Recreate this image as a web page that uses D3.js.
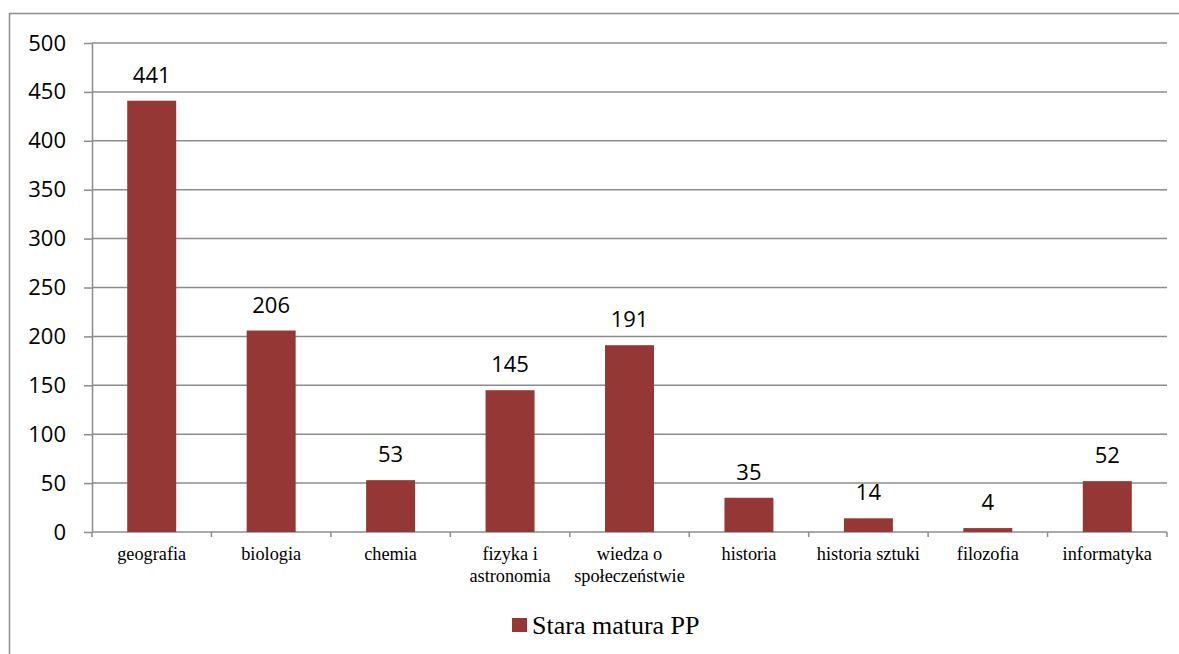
<!DOCTYPE html>
<meta charset="utf-8">
<style>
body { margin: 0; background: #fff; }
.grid line { stroke: #8c8c8c; stroke-width: 1.5px; }
.axis path, .axis line { stroke: #8c8c8c; stroke-width: 1.5px; }
.bar { fill: #953735; }
</style>
<svg width="1179" height="654"></svg>
<script src="https://cdn.jsdelivr.net/npm/d3@7"></script>
<script>
// data
var categories = ["geografia", "biologia", "chemia", "fizyka i|astronomia", "wiedza o|społeczeństwie",
                  "historia", "historia sztuki", "filozofia", "informatyka"];
var values = [441, 206, 53, 145, 191, 35, 14, 4, 52];
var yTicks = [0, 50, 100, 150, 200, 250, 300, 350, 400, 450, 500];
var seriesName = "Stara matura PP";

var svg = d3.select("svg"),
    margin = {top: 43, right: 12, bottom: 122, left: 92},
    width = 1167 - margin.left,
    height = 532 - margin.top,
    g = svg.append("g").attr("transform", "translate(" + margin.left + "," + margin.top + ")");

// outer chart border
svg.append("rect")
    .attr("x", 9.5).attr("y", 13.5)
    .attr("width", 1200).attr("height", 700)
    .attr("fill", "none")
    .attr("stroke", "#8c8c8c")
    .attr("stroke-width", 1.5);

var x = d3.scaleBand().domain(categories).range([0, width]).paddingInner(0.59).paddingOuter(0.295),
    xb = d3.scaleBand().domain(categories).range([0, width]),
    y = d3.scaleLinear().domain([0, 500]).range([height, 0]);

// gridlines
g.append("g")
    .attr("class", "grid")
    .selectAll("line")
    .data(yTicks.slice(1))
    .enter().append("line")
    .attr("x1", 0).attr("x2", width)
    .attr("y1", function(d) { return y(d); })
    .attr("y2", function(d) { return y(d); });

// y axis
var yAxis = g.append("g")
    .attr("class", "axis")
    .call(d3.axisLeft(y).tickValues(yTicks).tickSize(8).tickSizeOuter(0).tickPadding(18));
yAxis.selectAll("text")
    .style("font-family", "'Open Sans', sans-serif")
    .style("font-size", "22px")
    .attr("fill", "#000");

// x axis: ticks at band boundaries
var xAxis = g.append("g")
    .attr("class", "axis")
    .attr("transform", "translate(0," + height + ")");
xAxis.append("line").attr("x1", 0).attr("x2", width);
xAxis.selectAll(".tk")
    .data(d3.range(categories.length + 1))
    .enter().append("line")
    .attr("class", "tk")
    .attr("x1", function(i) { return i * xb.step(); })
    .attr("x2", function(i) { return i * xb.step(); })
    .attr("y1", 0).attr("y2", 5);

var labels = xAxis.selectAll(".lbl")
    .data(categories)
    .enter().append("text")
    .attr("class", "lbl")
    .attr("text-anchor", "middle")
    .attr("x", function(d) { return xb(d) + xb.bandwidth() / 2; })
    .attr("y", 28)
    .style("font-family", "'Liberation Serif', serif")
    .style("font-size", "18.3px")
    .attr("fill", "#000");
labels.each(function(d) {
  var parts = d.split("|");
  var t = d3.select(this);
  parts.forEach(function(p, i) {
    t.append("tspan").attr("x", t.attr("x")).attr("dy", i === 0 ? 0 : 22).text(p);
  });
});

// bars
var data = categories.map(function(c, i) { return {cat: c, value: values[i]}; });
g.selectAll(".bar")
    .data(data)
    .enter().append("rect")
    .attr("class", "bar")
    .attr("x", function(d) { return x(d.cat); })
    .attr("width", x.bandwidth())
    .attr("y", function(d) { return y(d.value); })
    .attr("height", function(d) { return height - y(d.value); });

// value labels
g.selectAll(".val")
    .data(data)
    .enter().append("text")
    .attr("class", "val")
    .attr("text-anchor", "middle")
    .attr("x", function(d) { return x(d.cat) + x.bandwidth() / 2; })
    .attr("y", function(d) { return y(d.value) - 18; })
    .style("font-family", "'Open Sans', sans-serif")
    .style("font-size", "22px")
    .text(function(d) { return d.value; });

// legend
var legend = svg.append("g").attr("transform", "translate(512,618)");
legend.append("rect").attr("width", 15).attr("height", 14).attr("class", "bar");
legend.append("text")
    .attr("x", 20).attr("y", 16)
    .style("font-family", "'Liberation Serif', serif")
    .style("font-size", "26px")
    .text(seriesName);
</script>
